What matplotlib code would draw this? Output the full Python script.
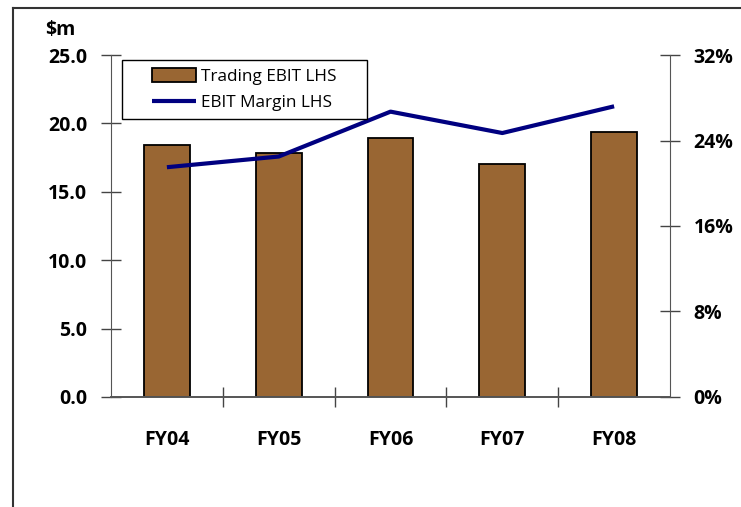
import matplotlib.pyplot as plt
from matplotlib.lines import Line2D
from matplotlib.patches import Rectangle
from matplotlib.ticker import FuncFormatter, FixedLocator

plt.rcParams['font.family'] = ['Open Sans', 'DejaVu Sans']
plt.rcParams['font.weight'] = 'bold'

# data
years = ['FY04', 'FY05', 'FY06', 'FY07', 'FY08']
ebit = [18.4, 17.8, 18.9, 17.0, 19.4]          # $m, left axis
margin = [21.5, 22.5, 26.7, 24.7, 27.2]         # %, right axis

bar_col = '#996633'
line_col = '#000080'
axis_col = '#555555'

fig = plt.figure(figsize=(7.41, 5.07), dpi=100)
ax = fig.add_axes([0.1498, 0.217, 0.7544, 0.6745])
ax2 = ax.twinx()

x = list(range(len(years)))
ax.bar(x, ebit, width=0.41, color=bar_col, edgecolor='black', linewidth=1.3,
       label='Trading EBIT LHS', zorder=2)
ax2.plot(x, margin, color=line_col, linewidth=3, label='EBIT Margin LHS',
         solid_capstyle='butt', zorder=3)

ax.set_xlim(-0.5, 4.5)
ax.set_ylim(0, 25)
ax2.set_ylim(0, 32)

ax.set_yticks([0, 5, 10, 15, 20, 25])
ax.yaxis.set_major_formatter(FuncFormatter(lambda v, p: f'{v:.1f}'))
ax2.set_yticks([0, 8, 16, 24, 32])
ax2.yaxis.set_major_formatter(FuncFormatter(lambda v, p: f'{v:.0f}%'))

ax.set_xticks(x)
ax.set_xticklabels(years)
ax.xaxis.set_minor_locator(FixedLocator([0.5, 1.5, 2.5, 3.5]))
ax.tick_params(axis='x', which='major', length=0, pad=24, labelsize=14)
ax.tick_params(axis='x', which='minor', direction='inout', length=14,
               width=1, color='#444444')
ax.tick_params(axis='y', direction='inout', length=14, width=1,
               color='#444444', pad=10, labelsize=14)
ax2.tick_params(axis='y', direction='inout', length=14, width=1,
                color='#444444', pad=10, labelsize=14)

for a in (ax, ax2):
    a.spines['top'].set_visible(False)
    a.spines['left'].set_color(axis_col)
    a.spines['right'].set_color(axis_col)
    a.spines['bottom'].set_color(axis_col)
    a.spines['bottom'].set_linewidth(1.2)
ax2.spines['left'].set_visible(False)
ax.spines['right'].set_visible(False)

fig.text(45 / 741, 1 - 30 / 507, '$m', fontsize=14, fontweight='bold',
         va='center', ha='left')

# legend box drawn separately so the entries sit centred in a wider frame
ax2.add_patch(Rectangle((0.0197, 0.813), 0.438, 0.172, transform=ax2.transAxes,
                        facecolor='white', edgecolor='black', lw=1, zorder=4))
h1, l1 = ax.get_legend_handles_labels()
h2, l2 = ax2.get_legend_handles_labels()
leg = ax2.legend(h1 + h2, l1 + l2, loc='center',
                 bbox_to_anchor=(0.0197 + 0.438 / 2, 0.813 + 0.172 / 2),
                 prop={'size': 12.3, 'weight': 'normal'}, frameon=False,
                 handlelength=2.6, handleheight=0.9, handletextpad=0.3,
                 labelspacing=0.55, borderpad=0)
leg.set_zorder(5)

# outer frame, only top and left edges fall inside the image
fig.add_artist(Line2D([13 / 741, 1], [1 - 8 / 507, 1 - 8 / 507],
                      transform=fig.transFigure, color='#333333', lw=1.5))
fig.add_artist(Line2D([13 / 741, 13 / 741], [0, 1 - 8 / 507],
                      transform=fig.transFigure, color='#333333', lw=1.5))

fig.savefig('out.png', dpi=100)
